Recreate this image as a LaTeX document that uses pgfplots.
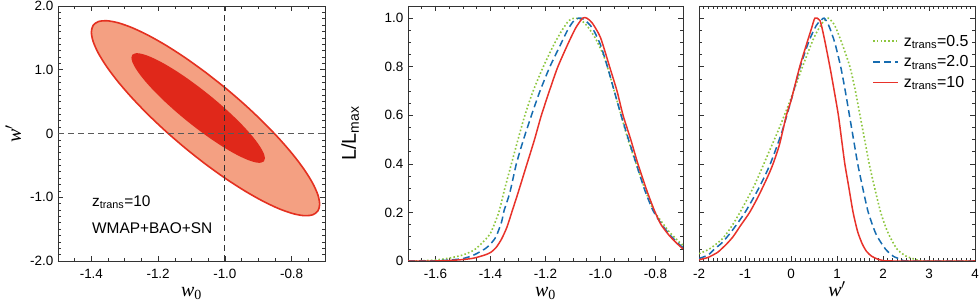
\documentclass[border=0pt]{standalone}
\usepackage{pgfplots}
\pgfplotsset{compat=1.18}
\usepackage{fontspec}
\setmainfont{Liberation Sans}
\newfontfamily\serif{Liberation Serif}
\definecolor{salmon}{RGB}{244,160,130}
\definecolor{inred}{RGB}{224,40,26}
\definecolor{edred}{RGB}{228,48,32}
\definecolor{cgreen}{RGB}{141,198,63}
\definecolor{cblue}{RGB}{22,108,176}
\definecolor{cred}{RGB}{232,50,42}
\pgfplotsset{
  every axis/.append style={
    scale only axis,
    tick align=inside,
    axis line style={draw=black!80, line width=0.8bp},
    major tick length=5bp, minor tick length=3bp,
    every tick/.style={black!80, line width=0.6bp},
    tick label style={font=\fontsize{13.5}{16}\selectfont, inner sep=0.5bp},
    yticklabel style={xshift=-4bp},
    xticklabel style={yshift=-7.5bp},
    label style={font=\fontsize{20}{22}\selectfont},
    xlabel style={at={(axis description cs:0.5,0)}, anchor=base, yshift=-35.5bp, inner sep=0.3bp},
  },
}
\begin{document}
\begin{tikzpicture}
\path[use as bounding box] (0bp,0bp) rectangle (980bp,306bp);
% ---------------- panel 1 -----------------
\begin{axis}[at={(58bp,45bp)}, anchor=south west, width=267bp, height=255bp,
  xmin=-1.5, xmax=-0.7, ymin=-2, ymax=2,
  xtick={-1.4,-1.2,-1.0,-0.8}, xticklabels={-1.4,-1.2,-1.0,-0.8},
  minor xtick={-1.5,-1.45,...,-0.69},
  ytick={-2,-1,0,1,2}, yticklabels={-2.0,-1.0,0,1.0,2.0},
  minor ytick={-2,-1.9,...,2.01},
  xlabel={{\serif\itshape w}\textsubscript{\serif 0}},
  ylabel={{\serif\itshape w}\kern-0.5bp$'$},
  ylabel style={at={(axis description cs:-0.139,0.5)}, anchor=base},
]
\addplot[fill=salmon, draw=edred, line width=1.6bp, smooth, line join=round] coordinates {
(-1.058,0.96) (-1.1174,1.1835) (-1.175,1.3783) (-1.229,1.5385) (-1.2778,1.6593)
(-1.32,1.7369) (-1.3542,1.7691) (-1.3794,1.7548) (-1.3948,1.6945) (-1.4,1.59)
(-1.3948,1.4445) (-1.3794,1.2624) (-1.3542,1.0491) (-1.32,0.8113) (-1.2778,0.5563)
(-1.229,0.2915) (-1.175,0.0251) (-1.1174,-0.2347) (-1.058,-0.48) (-0.9986,-0.7035)
(-0.941,-0.8983) (-0.887,-1.0585) (-0.8382,-1.1793) (-0.796,-1.2569) (-0.7618,-1.2891)
(-0.7366,-1.2748) (-0.7212,-1.2145) (-0.716,-1.11) (-0.7212,-0.9645) (-0.7366,-0.7824)
(-0.7618,-0.5691) (-0.796,-0.3313) (-0.8382,-0.0763) (-0.887,0.1885) (-0.941,0.4549)
(-0.9986,0.7147) (-1.058,0.96)};
\addplot[fill=inred, draw=none, smooth] coordinates {
(-1.08,0.74) (-1.1147,0.8719) (-1.1484,0.9897) (-1.18,1.0894) (-1.2086,1.1682)
(-1.2332,1.2237) (-1.2532,1.2541) (-1.2679,1.2587) (-1.277,1.237) (-1.28,1.19)
(-1.277,1.119) (-1.2679,1.0261) (-1.2532,0.9141) (-1.2332,0.7865) (-1.2086,0.6474)
(-1.18,0.5006) (-1.1484,0.3507) (-1.1147,0.2023) (-1.08,0.06) (-1.0453,-0.0719)
(-1.0116,-0.1897) (-0.98,-0.2894) (-0.9514,-0.3682) (-0.9268,-0.4237) (-0.9068,-0.4541)
(-0.8921,-0.4587) (-0.883,-0.437) (-0.88,-0.39) (-0.883,-0.319) (-0.8921,-0.2261)
(-0.9068,-0.1141) (-0.9268,0.0135) (-0.9514,0.1526) (-0.98,0.2994) (-1.0116,0.4493)
(-1.0453,0.5977) (-1.08,0.74)};
\addplot[black!80, line width=0.8bp, dash pattern=on 6bp off 4bp] coordinates {(-1,-2) (-1,2)};
\addplot[black!65, line width=0.8bp, dash pattern=on 6bp off 4bp] coordinates {(-1.5,0) (-0.7,0)};
\node[anchor=base west, inner sep=0bp, font=\fontsize{15.5}{17}\selectfont] at (rel axis cs:0.127,0.215) {z\textsubscript{trans}=10};
\node[anchor=base west, inner sep=0bp, font=\fontsize{15.5}{17}\selectfont] at (rel axis cs:0.127,0.109) {WMAP+BAO+SN};
\end{axis}
% ---------------- panel 2 -----------------
\begin{axis}[at={(408bp,45bp)}, anchor=south west, width=275bp, height=255bp,
  xmin=-1.7, xmax=-0.7, ymin=0, ymax=1.05,
  xtick={-1.6,-1.4,-1.2,-1.0,-0.8}, xticklabels={-1.6,-1.4,-1.2,-1.0,-0.8},
  minor xtick={-1.7,-1.65,...,-0.69},
  ytick={0,0.2,0.4,0.6,0.8,1.0}, yticklabels={0,0.2,0.4,0.6,0.8,1.0},
  minor ytick={0,0.05,...,1.051},
  xlabel={{\serif\itshape w}\textsubscript{\serif 0}},
  ylabel={L/L\textsubscript{max}},
  ylabel style={at={(axis description cs:-0.19,0.5)}, anchor=base},
]
\addplot[cgreen, line width=1.6bp, dash pattern=on 1.6bp off 2.2bp, smooth, tension=0.4] coordinates {
(-1.70,0.000) (-1.65,0.001) (-1.60,0.004) (-1.55,0.012) (-1.50,0.025) (-1.46,0.045)
(-1.43,0.075) (-1.40,0.115) (-1.37,0.20) (-1.35,0.29) (-1.324,0.40) (-1.30,0.50)
(-1.275,0.60) (-1.245,0.70) (-1.208,0.80) (-1.17,0.89) (-1.14,0.95) (-1.115,0.99)
(-1.095,1.00) (-1.075,0.995) (-1.05,0.97) (-1.02,0.92) (-0.99,0.85) (-0.975,0.80)
(-0.95,0.70) (-0.925,0.60) (-0.90,0.50) (-0.87,0.40) (-0.84,0.30) (-0.81,0.215)
(-0.78,0.165) (-0.75,0.12) (-0.72,0.085) (-0.70,0.065)};
\addplot[cblue, line width=1.5bp, dash pattern=on 7bp off 4bp, smooth, tension=0.4] coordinates {
(-1.70,0.000) (-1.60,0.001) (-1.55,0.004) (-1.50,0.01) (-1.46,0.025) (-1.42,0.05)
(-1.40,0.07) (-1.38,0.10) (-1.36,0.16) (-1.35,0.21) (-1.33,0.28) (-1.306,0.40)
(-1.28,0.50) (-1.251,0.60) (-1.22,0.70) (-1.184,0.80) (-1.15,0.88) (-1.12,0.95)
(-1.10,0.985) (-1.08,1.00) (-1.06,0.995) (-1.03,0.96) (-1.00,0.89) (-0.975,0.80)
(-0.95,0.70) (-0.925,0.60) (-0.898,0.50) (-0.87,0.40) (-0.84,0.295) (-0.81,0.21)
(-0.78,0.155) (-0.75,0.11) (-0.72,0.075) (-0.70,0.055)};
\addplot[cred, line width=1.5bp, smooth, tension=0.4] coordinates {
(-1.70,0.000) (-1.60,0.000) (-1.55,0.002) (-1.50,0.006) (-1.46,0.012) (-1.42,0.025)
(-1.40,0.035) (-1.38,0.055) (-1.36,0.09) (-1.34,0.14) (-1.32,0.21) (-1.30,0.28)
(-1.27,0.39) (-1.24,0.50) (-1.215,0.60) (-1.18,0.72) (-1.155,0.80) (-1.12,0.89)
(-1.09,0.96) (-1.065,1.00) (-1.05,1.00) (-1.03,0.98) (-1.00,0.92) (-0.967,0.80)
(-0.94,0.70) (-0.918,0.60) (-0.89,0.50) (-0.864,0.40) (-0.83,0.285) (-0.803,0.205)
(-0.78,0.15) (-0.75,0.105) (-0.72,0.07) (-0.70,0.05)};
\end{axis}
% ---------------- panel 3 -----------------
\begin{axis}[at={(699bp,45bp)}, anchor=south west, width=276bp, height=255bp,
  xmin=-2, xmax=4, ymin=0, ymax=1.05,
  xtick={-2,-1,0,1,2,3,4}, xticklabels={-2,-1,0,1,2,3,4},
  minor xtick={-2,-1.9,...,4.01},
  ytick={0,0.2,0.4,0.6,0.8,1.0}, yticklabels={},
  minor ytick={0,0.05,...,1.051},
  xlabel={{\serif\itshape w}\kern-0.5bp$'$},
  legend style={draw=none, fill=none, at={(0.627,0.895)}, anchor=north west,
    font=\fontsize{16}{18}\selectfont, row sep=4bp, inner sep=0bp,
    column sep=3bp},
  legend cell align=left,
  legend image code/.code={\draw[#1] (0bp,0bp) -- (25bp,0bp);},
]
\addplot[cgreen, line width=1.6bp, dash pattern=on 1.6bp off 2.2bp, smooth, tension=0.4] coordinates {
(-2.0,0.03) (-1.77,0.05) (-1.5,0.09) (-1.3,0.14) (-1.11,0.20) (-0.8,0.31) (-0.5,0.44)
(-0.25,0.55) (0.0,0.67) (0.25,0.80) (0.5,0.92) (0.68,0.98) (0.81,1.00) (0.95,0.97)
(1.10,0.90) (1.28,0.80) (1.40,0.70) (1.50,0.60) (1.60,0.50) (1.70,0.40) (1.82,0.30)
(1.95,0.20) (2.10,0.12) (2.30,0.05) (2.50,0.02) (2.70,0.007) (2.9,0.0) (4.0,0.0)};
\addlegendentry{z\textsubscript{trans}=0.5}
\addplot[cblue, line width=1.5bp, dash pattern=on 7bp off 4bp, smooth, tension=0.4] coordinates {
(-2.0,0.01) (-1.8,0.025) (-1.66,0.05) (-1.5,0.075) (-1.3,0.12) (-1.0,0.20) (-0.7,0.30)
(-0.45,0.40) (-0.2,0.53) (0.0,0.66) (0.2,0.80) (0.4,0.91) (0.55,0.97) (0.62,0.985)
(0.72,1.00) (0.82,0.97) (0.95,0.90) (1.08,0.80) (1.18,0.70) (1.27,0.60) (1.36,0.50)
(1.45,0.40) (1.56,0.30) (1.68,0.20) (1.85,0.11) (2.05,0.05) (2.22,0.02) (2.4,0.006)
(2.55,0.0) (4.0,0.0)};
\addlegendentry{z\textsubscript{trans}=2.0}
\addplot[cred, line width=1.5bp, smooth, tension=0.4] coordinates {
(-2.0,0.005) (-1.8,0.015) (-1.6,0.035) (-1.51,0.05) (-1.4,0.07) (-1.26,0.10)
(-1.1,0.145) (-0.90,0.20) (-0.7,0.27) (-0.5,0.35) (-0.39,0.40) (-0.25,0.48)
(-0.10,0.60) (0.0,0.66) (0.19,0.80) (0.35,0.90) (0.45,0.96) (0.52,1.00) (0.63,0.99)
(0.72,0.92) (0.845,0.80) (0.94,0.70) (1.03,0.60) (1.10,0.50) (1.17,0.40) (1.26,0.30)
(1.35,0.20) (1.45,0.12) (1.55,0.07) (1.64,0.04) (1.75,0.02) (1.88,0.008) (2.0,0.002)
(2.2,0.0) (4.0,0.0)};
\addlegendentry{z\textsubscript{trans}=10}
\end{axis}
\end{tikzpicture}
\end{document}
